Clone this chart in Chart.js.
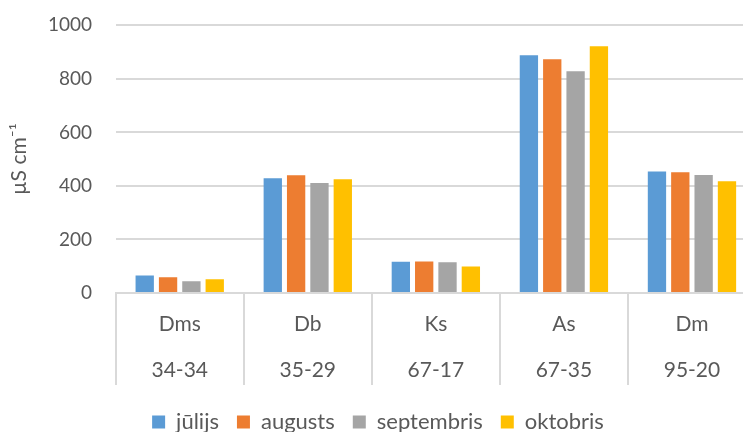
<!DOCTYPE html>
<html>
<head>
<meta charset="utf-8">
<script src="https://cdn.jsdelivr.net/npm/chart.js@4/dist/chart.umd.min.js"></script>
<style>
  html, body { margin: 0; padding: 0; overflow: hidden; background: #ffffff; }
  #wrap { position: absolute; left: 0; top: 0; width: 743px; height: 432px; overflow: hidden; }
  canvas { display: block; }
</style>
</head>
<body>
<div id="wrap"><canvas id="c" width="765" height="443"></canvas></div>
<script>
const categories = ['Dms', 'Db', 'Ks', 'As', 'Dm'];
const codes = ['34-34', '35-29', '67-17', '67-35', '95-20'];
const seriesNames = ['jūlijs', 'augusts', 'septembris', 'oktobris'];
const julijs = [65, 429, 117, 888, 454];
const augusts = [59, 440, 118, 873, 451];
const septembris = [44, 411, 115, 828, 441];
const oktobris = [51, 425, 99, 922, 417];
const yTicks = [0, 200, 400, 600, 800, 1000];
const yTitle = 'µS cm⁻¹';

const colors = ['#5B9BD5', '#ED7D31', '#A5A5A5', '#FFC000'];
const values = [julijs, augusts, septembris, oktobris];
const FONT = "Lato, 'Open Sans', sans-serif";
const TXT = '#595959';

const labels = categories.map((c, i) => [c, codes[i]]);

const chart = new Chart(document.getElementById('c'), {
  type: 'bar',
  data: {
    labels: labels,
    datasets: seriesNames.map((n, i) => ({
      label: n,
      data: values[i],
      backgroundColor: colors[i],
      borderWidth: 0,
      categoryPercentage: 0.729,
      barPercentage: 0.785
    }))
  },
  options: {
    responsive: false,
    devicePixelRatio: 1,
    animation: false,
    layout: { padding: { top: 25.3, right: 9, left: 0, bottom: 0 } },
    plugins: {
      tooltip: { enabled: false },
      legend: {
        position: 'bottom',
        labels: {
          boxWidth: 13,
          boxHeight: 13,
          padding: 18,
          color: TXT,
          font: { family: FONT, size: 22 }
        }
      }
    },
    scales: {
      x: {
        offset: true,
        afterFit: (s) => { s.height = 100; },
        grid: {
          offset: true,
          drawOnChartArea: false,
          drawTicks: true,
          tickLength: 92,
          color: '#d9d9d9',
          lineWidth: 2
        },
        border: { display: true, color: '#d9d9d9', width: 2 },
        ticks: {
          color: TXT,
          autoSkip: false,
          maxRotation: 0,
          minRotation: 0,
          padding: -84,
          font: { family: FONT, size: 21, lineHeight: 46 / 21 }
        }
      },
      y: {
        min: 0,
        max: 1000,
        afterFit: (s) => { s.width = 115.7; },
        afterBuildTicks: (axis) => { axis.ticks = yTicks.map(v => ({ value: v })); },
        grid: {
          color: '#d9d9d9',
          lineWidth: 2,
          drawTicks: true,
          tickLength: 23.7,
          tickColor: 'rgba(0,0,0,0)'
        },
        border: { display: false },
        ticks: {
          color: TXT,
          padding: 0,
          font: { family: FONT, size: 19 },
          callback: (v) => String(v)
        },
        title: {
          display: true,
          text: yTitle,
          color: TXT,
          padding: { top: 6.4, bottom: 0 },
          font: { family: FONT, size: 21 }
        }
      }
    }
  }
});
</script>
</body>
</html>
